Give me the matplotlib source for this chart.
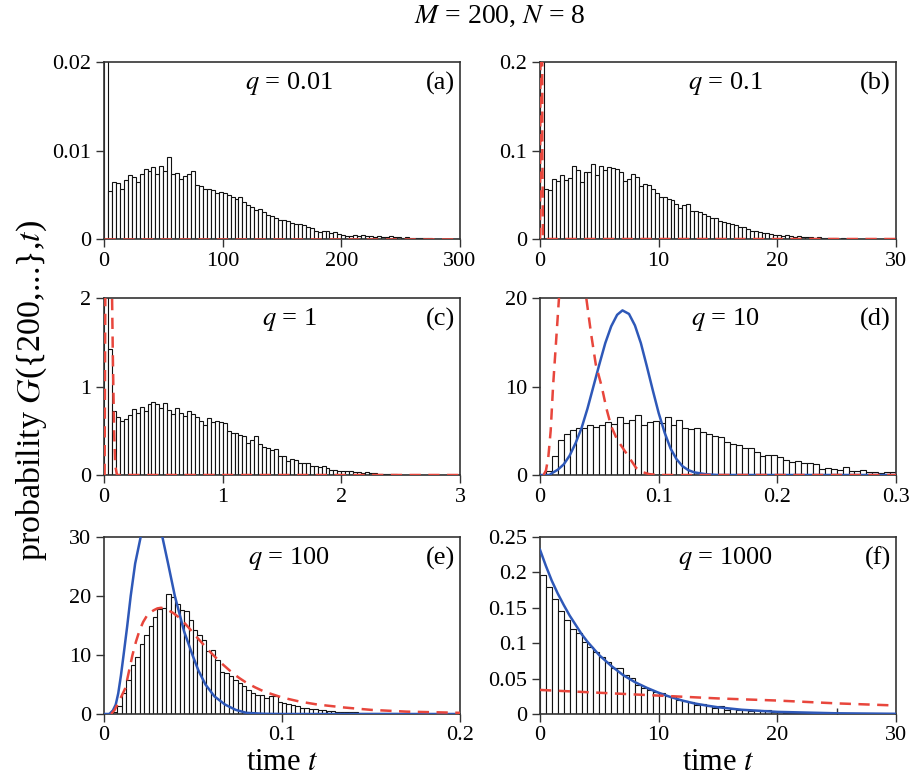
import numpy as np
import matplotlib
matplotlib.use("Agg")
import matplotlib.pyplot as plt

plt.rcParams['font.family'] = ['Liberation Serif', 'DejaVu Serif']
plt.rcParams['mathtext.fontset'] = 'stix'

# ---------------- data ----------------
q_labels = ["0.01", "0.1", "1", "10", "100", "1000"]
panel_tags = ["(a)", "(b)", "(c)", "(d)", "(e)", "(f)"]

# histogram bin widths and heights
bw_a = 10 / 3
hist_a = [0.05,
          0.0054, 0.0064, 0.0063, 0.0057, 0.0067, 0.0072, 0.0070, 0.0064, 0.0074, 0.0079,
          0.0077, 0.0081, 0.0073, 0.0082, 0.0077, 0.0093, 0.0074, 0.0075, 0.0068, 0.0071,
          0.0073, 0.0077, 0.0061, 0.0060, 0.0057, 0.0057, 0.0055, 0.0052, 0.0053,
          0.0052, 0.0050, 0.0048, 0.0045, 0.0047, 0.0042, 0.0038, 0.0036, 0.0033, 0.0034,
          0.0031, 0.0027, 0.0026, 0.0024, 0.0022, 0.0021, 0.0020, 0.0018, 0.0017, 0.0017,
          0.0016, 0.0014, 0.0012, 0.0009, 0.0008, 0.0009, 0.0009, 0.0007, 0.0008, 0.0006,
          0.0004, 0.0003, 0.0003, 0.0004, 0.0003, 0.0004, 0.0003, 0.0003, 0.0002, 0.0003,
          0.0002, 0.0002, 0.0003, 0.0002, 0.0002, 0.0001, 0.0002, 0.0001, 0.0001, 0.0001,
          0.0001, 0.0001, 0.0001, 0.00005, 0.00005, 0.00005, 0.0, 0.0, 0.0, 0.0]

bw_b = 1 / 3
hist_b = [0.5,
          0.057, 0.055, 0.068, 0.065, 0.072, 0.067, 0.069, 0.083, 0.078, 0.064,
          0.076, 0.076, 0.085, 0.072, 0.082, 0.078, 0.081, 0.080, 0.079, 0.076,
          0.066, 0.068, 0.073, 0.070, 0.060, 0.062, 0.061, 0.057, 0.052,
          0.047, 0.047, 0.045, 0.044, 0.040, 0.035, 0.038, 0.040, 0.032, 0.032,
          0.031, 0.028, 0.026, 0.024, 0.024, 0.020, 0.019, 0.018, 0.017, 0.016,
          0.014, 0.013, 0.011, 0.009, 0.009, 0.008, 0.007, 0.007, 0.006, 0.004,
          0.004, 0.003, 0.004, 0.003, 0.002, 0.003, 0.002, 0.002, 0.002, 0.001,
          0.002, 0.001, 0.001, 0.001, 0.001, 0.0005, 0.001, 0.0005, 0.0005, 0.0005,
          0.0005, 0.0003, 0.0003, 0.0003, 0.0002, 0.0002, 0.0002, 0.0001, 0.0001, 0.0001]

bw_c = 1 / 30
hist_c = [5.0, 1.42,
          0.72, 0.66, 0.61, 0.63, 0.68, 0.75, 0.70, 0.77, 0.72, 0.80,
          0.83, 0.80, 0.76, 0.81, 0.74, 0.69, 0.76, 0.70, 0.67, 0.72,
          0.69, 0.65, 0.61, 0.56, 0.64, 0.60, 0.61, 0.60,
          0.59, 0.50, 0.48, 0.47, 0.45, 0.44, 0.36, 0.40, 0.44, 0.35,
          0.32, 0.31, 0.28, 0.29, 0.22, 0.21, 0.16, 0.18, 0.17, 0.14,
          0.14, 0.13, 0.10, 0.10, 0.09, 0.10, 0.08, 0.06, 0.06, 0.05,
          0.05, 0.04, 0.04, 0.03, 0.03, 0.02, 0.03, 0.02, 0.02, 0.01,
          0.01, 0.01, 0.01, 0.01, 0.005, 0.005, 0.005, 0.003, 0.003, 0.002,
          0.002, 0.001, 0.001, 0.001, 0.001, 0.0005, 0.0005, 0.0005, 0.0, 0.0]

bw_d = 0.005
hist_d = [0.0, 0.5, 2.2, 4.0, 4.6, 5.1, 5.3, 5.3, 5.6, 5.4,
          5.6, 6.0, 5.8, 6.6, 5.9, 6.2, 6.8, 5.7, 6.0, 6.1,
          5.9, 6.5, 5.6, 6.2, 5.3, 5.2, 5.3, 4.9, 4.6, 4.4,
          4.3, 3.7, 3.5, 3.4, 3.1, 3.1, 2.6, 2.2, 2.3, 2.3,
          2.0, 1.7, 1.5, 1.6, 1.4, 1.3, 1.2, 0.7, 0.8, 0.7,
          0.6, 0.9, 0.5, 0.5, 0.6, 0.3, 0.3, 0.2, 0.3, 0.3]

bw_e = 0.0025
hist_e = [0.0, 0.1, 0.4, 1.4, 3.5, 5.8, 8.3, 9.6, 11.8, 13.4,
          15.0, 16.4, 17.8, 18.0, 20.3, 19.8, 18.6, 17.7, 17.4, 15.9,
          14.2, 13.4, 12.6, 10.6, 10.9, 9.2, 7.2, 6.9, 6.4, 5.8,
          5.2, 4.7, 4.1, 3.5, 3.3, 3.3, 2.7, 3.0, 3.0, 2.1,
          1.9, 1.7, 1.5, 1.3, 1.0, 1.1, 0.8, 0.9, 0.6, 0.7,
          0.5, 0.5, 0.4, 0.4, 0.3, 0.3, 0.3, 0.2, 0.2, 0.2,
          0.2, 0.15, 0.1, 0.1, 0.1, 0.1, 0.08, 0.05, 0.05, 0.05,
          0.04, 0.03, 0.03, 0.02, 0.02, 0.02, 0.01, 0.01, 0.01, 0.01]

bw_f = 0.5
hist_f = [0.196, 0.180, 0.162, 0.145, 0.133, 0.120, 0.115, 0.102, 0.095, 0.088,
          0.081, 0.074, 0.065, 0.065, 0.055, 0.051, 0.041, 0.037, 0.034, 0.031,
          0.030, 0.025, 0.026, 0.020, 0.018, 0.017, 0.013, 0.014, 0.011, 0.008,
          0.012, 0.006, 0.0065, 0.005, 0.006, 0.0047, 0.0056, 0.0047, 0.005, 0.003,
          0.0025, 0.002, 0.002, 0.0018, 0.0015, 0.0015, 0.001, 0.0012, 0.001, 0.0008,
          0.0008, 0.0006, 0.0006, 0.0005, 0.0005, 0.0004, 0.0004, 0.0003, 0.0003, 0.0003]

# red dashed curves
red_a_t = [0, 300]
red_a_y = [0, 0]
red_b_t = [0, 0.08, 0.12, 0.16, 0.2, 0.25, 30]
red_b_y = [0, 0.5, 2.0, 0.5, 0.1, 0, 0]
red_c_t = [0.005, 0.02, 0.04, 0.055, 0.065, 0.075, 0.085, 0.095, 0.11, 3]
red_c_y = [0, 5, 6, 4, 2.3, 1.3, 0.5, 0.1, 0, 0]
red_d_t = [0.003, 0.005, 0.007, 0.009, 0.011, 0.0125, 0.014, 0.016, 0.02, 0.024, 0.027,
           0.031, 0.034, 0.039, 0.043, 0.047, 0.052, 0.056, 0.06, 0.065, 0.07, 0.075,
           0.081, 0.087, 0.092, 0.1, 0.3]
red_d_y = [0, 0.5, 2, 5, 10, 13, 16, 20, 27, 31, 32,
           30, 27, 20, 16, 12.5, 10, 7.5, 5.5, 4, 3, 2,
           0.8, 0.3, 0.1, 0, 0]
red_e_t = [0.004, 0.006, 0.0075, 0.0095, 0.012, 0.014, 0.016, 0.018, 0.02, 0.022, 0.024,
           0.026, 0.028, 0.030, 0.032, 0.034, 0.036, 0.039, 0.042, 0.045, 0.048,
           0.051, 0.054, 0.057, 0.06, 0.063, 0.066, 0.069, 0.072, 0.076, 0.08, 0.085,
           0.09, 0.095, 0.1, 0.11, 0.12, 0.135, 0.15, 0.17, 0.2]
red_e_y = [0, 0.7, 1.6, 2.8, 4.4, 7.2, 10.0, 12.3, 14.2, 15.6, 16.6,
           17.2, 17.6, 17.9, 18.0, 17.9, 17.6, 17.1, 16.4, 15.5, 14.5,
           13.4, 12.4, 11.4, 10.4, 9.5, 8.6, 7.8, 7.0, 6.1, 5.3, 4.5,
           3.8, 3.3, 2.8, 2.1, 1.6, 1.1, 0.7, 0.4, 0.2]
red_f_t = [0, 5, 10, 15, 20, 25, 30]
red_f_y = [0.034, 0.030, 0.026, 0.022, 0.019, 0.015, 0.012]

# blue solid curves
blue_d_t = [0.0, 0.008, 0.01, 0.015, 0.02, 0.025, 0.03, 0.035, 0.04, 0.045, 0.05, 0.055,
            0.06, 0.065, 0.0695, 0.075, 0.08, 0.085, 0.09, 0.095, 0.1, 0.105, 0.11,
            0.115, 0.12, 0.125, 0.13, 0.14, 0.15, 0.3]
blue_d_y = [0, 0, 0.2, 0.6, 1.2, 2.2, 3.6, 5.3, 7.5, 10.0, 12.5, 14.9,
            16.8, 18.1, 18.6, 18.2, 16.9, 14.9, 12.3, 9.6, 7.0, 4.8, 3.0,
            1.8, 1.0, 0.55, 0.3, 0.08, 0, 0]
blue_e_t = [0.0, 0.003, 0.005, 0.0066, 0.008, 0.0095, 0.011, 0.013, 0.015, 0.0175,
            0.0206, 0.024, 0.027, 0.030, 0.0328, 0.036, 0.0398, 0.045, 0.0497, 0.053,
            0.057, 0.062, 0.068, 0.074, 0.08, 0.09, 0.1, 0.2]
blue_e_y = [0, 0, 0.6, 1.6, 3.5, 6.5, 10, 14.8, 20, 25.5,
            30, 34, 35.5, 34, 30, 25.5, 20, 14, 10, 7.4,
            5, 3, 1.6, 0.7, 0.2, 0.03, 0, 0]
blue_f_t = [0, 0.5, 1, 1.5, 2, 2.5, 3, 3.5, 4, 5, 6, 7, 8, 9, 10, 11, 12, 13, 14, 15,
            17, 20, 25, 30]
blue_f_y = [0.232, 0.209, 0.188, 0.170, 0.154, 0.139, 0.126, 0.113, 0.102, 0.083, 0.068,
            0.055, 0.045, 0.037, 0.030, 0.024, 0.019, 0.015, 0.012, 0.0095, 0.006, 0.003,
            0.001, 0.0003]

# axes ranges and ticks
xlims = [300, 30, 3, 0.3, 0.2, 30]
ylims = [0.02, 0.2, 2, 20, 30, 0.25]
xticks = [[0, 100, 200, 300], [0, 10, 20, 30], [0, 1, 2, 3], [0, 0.1, 0.2, 0.3],
          [0, 0.1, 0.2], [0, 10, 20, 30]]
xticklabels = [["0", "100", "200", "300"], ["0", "10", "20", "30"], ["0", "1", "2", "3"],
               ["0", "0.1", "0.2", "0.3"], ["0", "0.1", "0.2"], ["0", "10", "20", "30"]]
yticks = [[0, 0.01, 0.02], [0, 0.1, 0.2], [0, 1, 2], [0, 10, 20], [0, 10, 20, 30],
          [0, 0.05, 0.1, 0.15, 0.2, 0.25]]
yticklabels = [["0", "0.01", "0.02"], ["0", "0.1", "0.2"], ["0", "1", "2"],
               ["0", "10", "20"], ["0", "10", "20", "30"],
               ["0", "0.05", "0.1", "0.15", "0.2", "0.25"]]

hists = [(bw_a, hist_a), (bw_b, hist_b), (bw_c, hist_c), (bw_d, hist_d), (bw_e, hist_e), (bw_f, hist_f)]
reds = [(red_a_t, red_a_y), (red_b_t, red_b_y), (red_c_t, red_c_y),
        (red_d_t, red_d_y), (red_e_t, red_e_y), (red_f_t, red_f_y)]
blues = [None, None, None, (blue_d_t, blue_d_y), (blue_e_t, blue_e_y), (blue_f_t, blue_f_y)]

# ---------------- figure ----------------
W, H = 911, 776
fig = plt.figure(figsize=(W / 100, H / 100), dpi=100)
lefts = [104, 540]
tops = [62, 298, 537]
aw, ah = 356, 177

RED = '#e8463c'
BLUE = '#2e58b8'
SPINE = '#333333'

for i in range(6):
    r, c = divmod(i, 2)
    L = lefts[c]
    T = tops[r]
    ax = fig.add_axes([L / W, 1 - (T + ah) / H, aw / W, ah / H])
    bw, h = hists[i]
    h = np.asarray(h)
    edges = np.arange(len(h)) * bw
    ax.bar(edges, h, width=bw, align='edge', facecolor='white', edgecolor='#111111',
           linewidth=0.8, zorder=2)
    if blues[i] is not None:
        ax.plot(blues[i][0], blues[i][1], color=BLUE, lw=1.8, zorder=3,
                solid_joinstyle='round')
    ax.plot(reds[i][0], reds[i][1], color=RED, lw=1.8, ls=(0, (4.5, 3)), zorder=4)
    ax.set_xlim(0, xlims[i])
    ax.set_ylim(0, ylims[i])
    ax.set_xticks(xticks[i])
    ax.set_xticklabels(xticklabels[i])
    ax.set_yticks(yticks[i])
    ax.set_yticklabels(yticklabels[i])
    ax.tick_params(direction='out', length=6, width=1.0, labelsize=16, color=SPINE, pad=3)
    if i == 5:
        ax.set_xticks([5, 15, 25], minor=True)
        ax.tick_params(which='minor', direction='in', length=4, width=1.0, color=SPINE)
    for s in ax.spines.values():
        s.set_linewidth(1.2)
        s.set_color(SPINE)
    ax.text(0.52, 0.88, r'$q$ = ' + q_labels[i], transform=ax.transAxes,
            ha='center', va='center', fontsize=19)
    ax.text(0.985, 0.88, panel_tags[i], transform=ax.transAxes,
            ha='right', va='center', fontsize=19)
    if r == 2:
        fig.text((L + aw / 2) / W, 1 - 763 / H, r'time $t$', ha='center', va='center',
                 fontsize=22)

fig.text(500 / W, 1 - 16 / H, r'$M$ = 200, $N$ = 8', ha='center', va='center', fontsize=20)
fig.text(32 / W, 1 - 390 / H, r'probability $G$({200,...},$t$)', rotation=90,
         ha='center', va='center', fontsize=24.5)

fig.savefig('out.png', dpi=100)
